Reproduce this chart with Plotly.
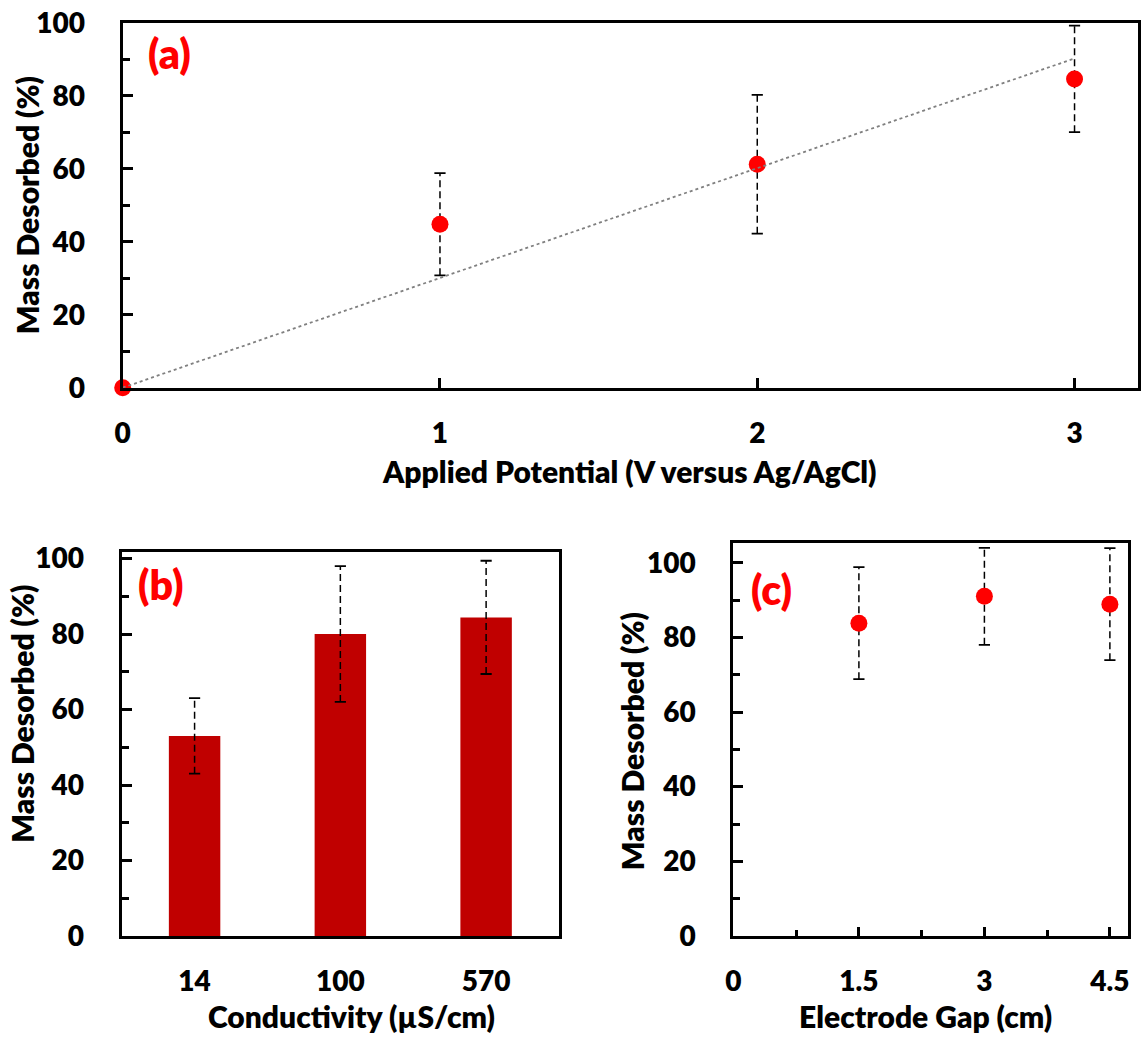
import plotly.graph_objects as go
import numpy as np

W, H = 1142, 1046

# ---------------- data ----------------
# (a) applied potential
pot_x = [0, 1, 2, 3]
pot_y = [0, 44.8, 61.2, 84.6]
pot_err = [0, 14, 19, 14.6]

# (b) conductivity
cond_cats = ["14", "100", "570"]
cond_y = [53, 80, 84.4]
cond_err = [10, 18, 15]

# (c) electrode gap
gap_x = [1.5, 3, 4.5]
gap_y = [83.8, 91, 88.9]
gap_err = [15, 13, 15]

# tick labels
a_xticks = [0, 1, 2, 3]
y_ticks = [0, 20, 40, 60, 80, 100]
c_xticks = [0, 1.5, 3, 4.5]
c_xticklabels = ["0", "1.5", "3", "4.5"]

FONT = "Lato"
RED = "#FF0000"
BAR = "#C00000"


def px(x):
    return x / W


def py(y):
    return 1 - y / H


def err_segments(xs, ys, es):
    lx, ly, cx, cy = [], [], [], []
    for x, y, e in zip(xs, ys, es):
        if e <= 0:
            continue
        lx += [x, x, None]
        ly += [y - e, y + e, None]
        cx += [x, x]
        cy += [y - e, y + e]
    return lx, ly, cx, cy


fig = go.Figure()


def add_errbars(xs, ys, es, xa, ya):
    lx, ly, cx, cy = err_segments(xs, ys, es)
    fig.add_trace(go.Scatter(x=lx, y=ly, mode="lines", xaxis=xa, yaxis=ya,
                             line=dict(color="black", width=1.5, dash="7px,4px"),
                             hoverinfo="skip", showlegend=False))
    fig.add_trace(go.Scatter(x=cx, y=cy, mode="markers", xaxis=xa, yaxis=ya,
                             marker=dict(symbol="line-ew", size=8,
                                         line=dict(color="black", width=1.8)),
                             hoverinfo="skip", showlegend=False))


# ---- panel (a)
add_errbars(pot_x, pot_y, pot_err, "x", "y")
fig.add_trace(go.Scatter(x=pot_x, y=pot_y, mode="markers", xaxis="x", yaxis="y",
                         marker=dict(color=RED, size=17), cliponaxis=False,
                         showlegend=False))
xa_arr = np.array(pot_x, dtype=float)
ya_arr = np.array(pot_y, dtype=float)
slope = float((xa_arr * ya_arr).sum() / (xa_arr ** 2).sum())
trend_x = [min(pot_x), max(pot_x)]
trend_y = [slope * v for v in trend_x]
fig.add_trace(go.Scatter(x=trend_x, y=trend_y, mode="lines", xaxis="x", yaxis="y",
                         line=dict(color="#808080", width=1.8, dash="dot"),
                         hoverinfo="skip", showlegend=False))

# ---- panel (b)
fig.add_trace(go.Bar(x=cond_cats, y=cond_y, xaxis="x2", yaxis="y2",
                     marker=dict(color=BAR, line=dict(width=0)), width=0.353,
                     showlegend=False))
add_errbars(cond_cats, cond_y, cond_err, "x2", "y2")

# ---- panel (c)
add_errbars(gap_x, gap_y, gap_err, "x3", "y3")
fig.add_trace(go.Scatter(x=gap_x, y=gap_y, mode="markers", xaxis="x3", yaxis="y3",
                         marker=dict(color=RED, size=17), showlegend=False))

tickfont = dict(family=FONT, size=28, color="black", weight=800)
titlefont = dict(family=FONT, size=30, color="black", weight=800)
labfont = dict(family=FONT, size=41, color=RED, weight=800)

common = dict(showline=True, linecolor="black", linewidth=3, mirror=True,
              showgrid=False, zeroline=False, tickfont=tickfont, automargin=False)

yaxis_common = dict(common, tickvals=y_ticks, ticks="inside", ticklen=10, tickwidth=2.5,
                    tickcolor="black", ticklabelstandoff=29,
                    minor=dict(dtick=10, tick0=0, ticks="inside", ticklen=7,
                               tickwidth=2.5, tickcolor="black"))

fig.update_layout(
    width=W, height=H,
    margin=dict(l=0, r=0, t=0, b=0, pad=0, autoexpand=False),
    paper_bgcolor="white", plot_bgcolor="white",
    showlegend=False,
    xaxis=dict(common, domain=[px(122.7), px(1138)], range=[0, 3.2],
               tickvals=a_xticks, ticks="inside", ticklen=10, tickwidth=2.5,
               tickcolor="black", ticklabelstandoff=19, anchor="y"),
    yaxis=dict(yaxis_common, domain=[py(387.7), py(22.7)], range=[0, 100], anchor="x"),
    xaxis2=dict(common, domain=[px(121.7), px(559)], type="category",
                range=[-0.5, 2.5], ticks="", ticklabelstandoff=18, anchor="y2"),
    yaxis2=dict(yaxis_common, domain=[py(936), py(551.7)], range=[0, 101.8], anchor="x2"),
    xaxis3=dict(common, domain=[px(733.4), px(1128.3)], range=[0, 4.72],
                tickvals=c_xticks, ticktext=c_xticklabels, ticks="inside", ticklen=9,
                tickwidth=2.5, tickcolor="black", ticklabelstandoff=18, anchor="y3",
                minor=dict(dtick=0.75, tick0=0, ticks="inside", ticklen=6,
                           tickwidth=2.5, tickcolor="black")),
    yaxis3=dict(yaxis_common, domain=[py(936), py(543.3)], range=[0, 105.2], anchor="x3"),
)

annots = [
    ("Mass Desorbed (%)", 26.7, 205.5, -90, titlefont),
    ("Applied Potential (V versus Ag/AgCl)", 629.5, 471, 0, titlefont),
    ("Mass Desorbed (%)", 21.7, 714, -90, titlefont),
    ("Conductivity (µS/cm)", 351, 1016, 0, titlefont),
    ("Mass Desorbed (%)", 631.7, 741.5, -90, titlefont),
    ("Electrode Gap (cm)", 925.7, 1016, 0, titlefont),
    ("(a)", 169.7, 54, 0, labfont),
    ("(b)", 160.3, 584, 0, labfont),
    ("(c)", 771.3, 589, 0, labfont),
]
for text, ax, ay, ang, f in annots:
    fig.add_annotation(text=text, x=px(ax), y=py(ay), xref="paper", yref="paper",
                       xanchor="center", yanchor="middle", textangle=ang,
                       showarrow=False, font=f)

fig.write_html("out.html")
